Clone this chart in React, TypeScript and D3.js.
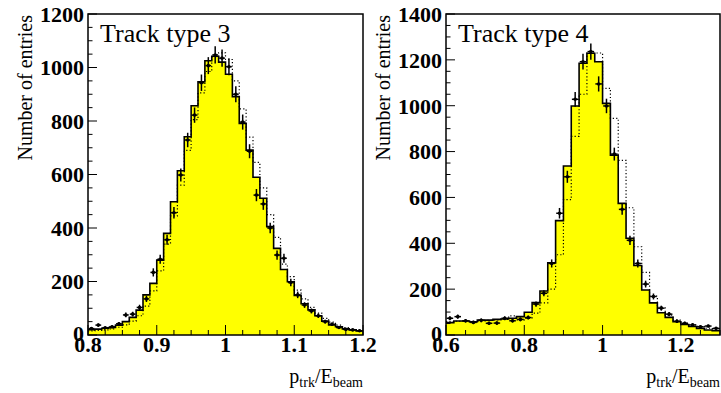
import React from "react";
import * as d3 from "d3";

// ---------- Left panel: Track type 3 (0.80 – 1.20, 40 bins of 0.01) ----------
const leftSolid = [20, 22, 25, 28, 37, 50, 66, 93, 150, 193, 280, 380, 498, 614, 741, 857, 947, 1025, 1042, 1020, 975, 891, 791, 691, 590, 511, 405, 324, 245, 199, 148, 117, 94, 72, 52, 38, 31, 23, 19, 15];
const leftDotted = [15, 17, 19, 23, 29, 38, 52, 72, 108, 165, 240, 340, 445, 560, 690, 805, 905, 985, 1040, 1055, 1030, 950, 845, 740, 645, 550, 450, 365, 265, 218, 168, 135, 103, 82, 62, 48, 37, 28, 20, 16];
const leftData = [24, 37, 27, 31, 42, 75, 78, 103, 135, 234, 283, 356, 457, 598, 729, 822, 943, 1007, 1047, 1035, 1003, 900, 796, 687, 523, 490, 400, 299, 287, 196, 150, 112, 90, 72, 50, 40, 28, 21, 19, 16];
const leftXTicks = ["0.8", "0.9", "1", "1.1", "1.2"];
const leftYTicks = ["0", "200", "400", "600", "800", "1000", "1200"];

// ---------- Right panel: Track type 4 (0.60 – 1.30, 35 bins of 0.02) ----------
const rightSolid = [54, 61, 61, 58, 65, 65, 68, 70, 73, 80, 99, 141, 192, 315, 499, 737, 999, 1185, 1229, 1192, 1010, 784, 574, 422, 303, 196, 140, 97, 77, 58, 46, 37, 29, 22, 19];
const rightDotted = [58, 60, 60, 57, 62, 64, 66, 68, 83, 66, 72, 95, 140, 200, 350, 590, 866, 1050, 1230, 1230, 1076, 945, 762, 555, 385, 273, 170, 121, 87, 65, 51, 44, 38, 30, 28];
const rightData = [73, 80, 62, 55, 64, 51, 52, 73, 62, 68, 76, 135, 182, 312, 531, 690, 1028, 1192, 1236, 1095, 999, 789, 548, 413, 312, 222, 168, 117, 91, 60, 51, 44, 36, 39, 29];
const rightXTicks = ["0.6", "0.8", "1", "1.2"];
const rightYTicks = ["0", "200", "400", "600", "800", "1000", "1200", "1400"];

const SERIF = "Liberation Serif, DejaVu Serif, serif";

type PanelProps = {
  left: number; right: number; top: number; bottom: number;
  xMin: number; xMax: number; binW: number; yMax: number;
  solid: number[]; dotted: number[]; data: number[];
  xTicks: string[]; xMinor: number;
  yTicks: string[];
  title: string; yTitleX: number;
};

function Panel(p: PanelProps) {
  const x = d3.scaleLinear().domain([p.xMin, p.xMax]).range([p.left, p.right]);
  const y = d3.scaleLinear().domain([0, p.yMax]).range([p.bottom, p.top]);
  const edges = (vals: number[]) => {
    const pts: [number, number][] = vals.map((v, i) => [p.xMin + i * p.binW, v]);
    pts.push([p.xMin + vals.length * p.binW, vals[vals.length - 1]]);
    return pts;
  };
  const line = d3.line<[number, number]>().x(d => x(d[0])).y(d => y(d[1])).curve(d3.curveStepAfter);
  const area = d3.area<[number, number]>().x(d => x(d[0])).y0(y(0)).y1(d => y(d[1])).curve(d3.curveStepAfter);
  const solidPts = edges(p.solid);
  const dottedPts = edges(p.dotted);

  const yMinorTicks = d3.range(0, p.yMax + 0.001, 50);
  const yMajorTicks = p.yTicks.map(t => +t);
  const nMinor = Math.round((p.xMax - p.xMin) / p.xMinor);
  const xMinorTicks = d3.range(0, nMinor + 1).map(i => p.xMin + i * p.xMinor);
  const xMajorTicks = p.xTicks.map(t => +t);
  const txt = { fontFamily: SERIF } as React.CSSProperties;

  return (
    <g>
      <path d={area(solidPts) || ""} fill="#ffff00" stroke="none" />
      <path d={line(solidPts) || ""} fill="none" stroke="#000" strokeWidth={1.6} />
      <path d={line(dottedPts) || ""} fill="none" stroke="#000" strokeWidth={1.2} strokeDasharray="1.2 2.2" />
      {p.data.map((v, i) => {
        const cx = x(p.xMin + (i + 0.5) * p.binW);
        const cy = y(v);
        const e = Math.sqrt(v);
        const hw = (x(p.binW) - x(0)) * 0.42;
        return (
          <g key={i} stroke="#000" strokeWidth={1.5}>
            <line x1={cx - hw} x2={cx + hw} y1={cy} y2={cy} />
            <line x1={cx} x2={cx} y1={y(v - e)} y2={y(v + e)} />
            <circle cx={cx} cy={cy} r={1.8} fill="#000" stroke="none" />
          </g>
        );
      })}
      <rect x={p.left} y={p.top} width={p.right - p.left} height={p.bottom - p.top} fill="none" stroke="#000" strokeWidth={1.5} />
      {yMinorTicks.map(t => (
        <line key={"ym" + t} x1={p.left} x2={p.left + (yMajorTicks.includes(t) ? 9 : 4.5)} y1={y(t)} y2={y(t)} stroke="#000" strokeWidth={1} />
      ))}
      {xMinorTicks.map((t, i) => {
        const major = xMajorTicks.some(m => Math.abs(m - t) < 1e-6);
        return <line key={"xm" + i} x1={x(t)} x2={x(t)} y1={p.bottom} y2={p.bottom - (major ? 10 : 5)} stroke="#000" strokeWidth={1} />;
      })}
      {p.yTicks.map(t => (
        <text key={"yl" + t} x={p.left - 4} y={y(+t) - (t === "0" ? 2 : 0)} dy="0.36em" textAnchor="end" style={txt} fontWeight="bold" fontSize={22}>{t}</text>
      ))}
      {p.xTicks.map(t => (
        <text key={"xl" + t} x={x(+t)} y={352} textAnchor="middle" style={txt} fontWeight="bold" fontSize={22}>{t}</text>
      ))}
      <text x={p.left + 12} y={41.5} style={txt} fontSize={26}>{p.title}</text>
      <text transform={`translate(${p.yTitleX},${p.top + 1}) rotate(-90)`} textAnchor="end" style={txt} fontSize={20}>Number of entries</text>
      <text x={p.right} y={383} textAnchor="end" style={txt} fontSize={20}>
        p<tspan fontSize={14} dy={4}>trk</tspan><tspan dy={-4}>/E</tspan><tspan fontSize={14} dy={4}>beam</tspan>
      </text>
    </g>
  );
}

export default function App() {
  return (
    <svg width={721} height={393} style={{ position: "absolute", left: 0, top: 0, background: "#fff" }}>
      <Panel left={88} right={363} top={14} bottom={335} xMin={0.8} xMax={1.2} binW={0.01} yMax={1200}
        solid={leftSolid} dotted={leftDotted} data={leftData}
        xTicks={leftXTicks} xMinor={0.025} yTicks={leftYTicks}
        title="Track type 3" yTitleX={32} />
      <Panel left={446} right={720} top={14} bottom={335} xMin={0.6} xMax={1.3} binW={0.02} yMax={1400}
        solid={rightSolid} dotted={rightDotted} data={rightData}
        xTicks={rightXTicks} xMinor={0.05} yTicks={rightYTicks}
        title="Track type 4" yTitleX={390} />
    </svg>
  );
}
